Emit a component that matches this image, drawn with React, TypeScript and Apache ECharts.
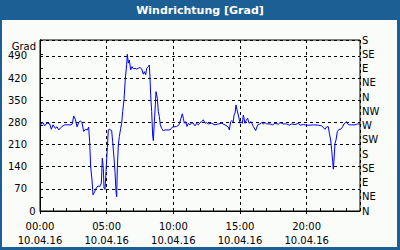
import React, { useEffect, useRef } from "react";
import * as echarts from "echarts";

const TITLE = "Windrichtung [Grad]";
const Y_UNIT = "Grad";
const DATE_LABEL = "10.04.16";
const COMPASS = ["N", "NE", "E", "SE", "S", "SW", "W", "NW", "N", "NE", "E", "SE", "S"];

const HOURS = [
  0, 0.225, 0.35, 0.525, 0.73, 0.85, 0.975, 1.15, 1.275, 1.4, 1.55, 1.725, 1.85, 2.325, 2.425, 2.525, 2.65, 2.775, 2.9,
  3.025, 3.15, 3.275, 3.4, 3.55, 3.65, 3.725, 3.8, 3.9, 3.975, 4.1, 4.225, 4.35, 4.475, 4.6, 4.675, 4.75, 4.8, 4.875,
  4.95, 5.05, 5.125, 5.2, 5.375, 5.45, 5.55, 5.625, 5.7, 5.75, 5.8, 5.875, 5.95, 6.05, 6.125, 6.2, 6.3, 6.4, 6.5, 6.55,
  6.625, 6.7, 6.8, 6.9, 7.0, 7.125, 7.25, 7.375, 7.5, 7.625, 7.75, 7.825, 7.925, 8.0, 8.125, 8.2, 8.25, 8.3, 8.375,
  8.45, 8.5, 8.575, 8.65, 8.7, 8.8, 8.875, 8.95, 9.025, 9.125, 9.25, 9.375, 9.75, 9.925, 10.25, 10.425, 10.575, 10.675,
  10.75, 10.825, 10.925, 11.025, 11.125, 11.25, 11.375, 11.5, 11.625, 11.75, 11.875, 12.0, 12.125, 12.25, 12.375, 12.5,
  12.625, 12.875, 13.125, 13.375, 13.625, 13.875, 14.125, 14.2, 14.3, 14.375, 14.5, 14.55, 14.625, 14.7, 14.775,
  14.875, 15.0, 15.075, 15.175, 15.25, 15.375, 15.45, 15.575, 15.675, 15.825, 16.0, 16.175, 16.325, 16.5, 16.625,
  16.75, 16.875, 17.0, 17.25, 17.45, 17.625, 17.875, 18.0, 18.25, 18.5, 18.7, 18.875, 19.125, 19.375, 19.5, 19.75,
  20.0, 20.25, 20.5, 20.875, 21.125, 21.375, 21.5, 21.625, 21.7, 21.8, 21.875, 21.95, 22.0, 22.05, 22.125, 22.2, 22.3,
  22.425, 22.55, 22.7, 22.8, 22.9, 23.0, 23.075, 23.2, 23.375, 23.625, 23.8, 24.0,
];

const VALUES = [
  272, 279, 269, 278, 275, 258, 272, 261, 266, 256, 263, 269, 272, 272, 275, 300, 290, 266, 279,
  285, 279, 251, 258, 256, 265, 219, 140, 98, 51, 61, 73, 79, 77, 88, 167, 135, 73, 68,
  124, 200, 256, 258, 254, 219, 167, 124, 61, 45, 136, 209, 235, 261, 277, 314, 351, 419, 462, 495,
  467, 477, 446, 456, 449, 451, 448, 451, 453, 449, 432, 440, 430, 451, 456, 461, 419, 367, 314,
  240, 222, 282, 335, 377, 356, 314, 298, 272, 261, 253, 256, 256, 265, 267, 272, 293, 307,
  293, 277, 282, 267, 277, 272, 279, 277, 269, 277, 272, 279, 282, 288, 277, 279,
  275, 277, 272, 275, 277, 272, 265, 256, 282, 285, 282, 303, 309, 335, 319,
  303, 277, 282, 277, 303, 277, 285, 293, 277, 282, 267, 254, 272, 275, 279,
  275, 279, 275, 275, 272, 277, 274, 279, 275, 275, 271, 275, 273, 277, 271, 273,
  271, 271, 272, 271, 269, 258, 266, 266, 246, 224, 193, 156, 132, 161, 214, 224, 251,
  258, 258, 266, 275, 279, 282, 275, 272, 272, 272, 275, 275,
];

const FONT = "DejaVu Sans";
const FRAME = "#1c5f95";

export default function App() {
  const ref = useRef<HTMLDivElement>(null);
  useEffect(() => {
    if (!ref.current) return;
    const chart = echarts.init(ref.current, undefined, { renderer: "svg" });
    const data = HOURS.map((h, i) => [h, VALUES[i]]);
    chart.setOption({
      animation: false,
      backgroundColor: FRAME,
      textStyle: { fontFamily: FONT },
      graphic: [
        { type: "rect", z: -10, shape: { x: 2, y: 20, width: 395, height: 227 }, style: { fill: "#fafcfa" } },
        {
          type: "text", x: 200, y: 10,
          style: { text: TITLE, fill: "#fff", font: `bold 11px "${FONT}"`, align: "center", verticalAlign: "middle" },
        },
        {
          type: "text", x: 36, y: 46,
          style: { text: Y_UNIT, fill: "#000", font: `10px "${FONT}"`, align: "right", verticalAlign: "middle" },
        },
        {
          type: "text", x: 35.5, y: 211,
          style: { text: "0", fill: "#000", font: `10px "${FONT}"`, align: "right", verticalAlign: "middle" },
        },
      ],
      grid: { left: 40, right: 40, top: 40, bottom: 39, show: true, borderColor: "#000", borderWidth: 1, backgroundColor: "transparent" },
      xAxis: [
        {
          type: "value", min: 0, max: 24, interval: 5, position: "bottom",
          axisLine: { lineStyle: { color: "#000", width: 1 } },
          axisTick: { show: true, inside: false, length: 3, lineStyle: { color: "#000" } },
          axisLabel: {
            color: "#000", fontSize: 10, fontFamily: FONT, margin: 8, lineHeight: 14, showMaxLabel: false,
            formatter: (v: number) => (v % 5 === 0 && v < 24 ? `${String(v).padStart(2, "0")}:00\n${DATE_LABEL}` : ""),
          },
          splitLine: { show: true, lineStyle: { color: "#000", type: [3, 3], width: 1 } },
        },
        {
          type: "value", min: 0, max: 24, interval: 1, position: "bottom",
          axisLine: { show: false },
          axisTick: { show: true, inside: true, length: 3, lineStyle: { color: "#000" } },
          axisLabel: { show: false },
          splitLine: { show: false },
        },
      ],
      yAxis: [
        {
          type: "value", min: 0, max: 540, interval: 70, position: "left",
          axisLine: { show: true, lineStyle: { color: "#000" } },
          axisTick: { show: false },
          axisLabel: {
            color: "#000", fontSize: 10, fontFamily: FONT, margin: 13,
            formatter: (v: number) => (v === 0 || v > 490 ? "" : String(v)),
          },
          splitLine: { show: true, lineStyle: { color: "#000", type: [3, 3], width: 1 } },
        },
        {
          type: "value", min: 0, max: 540, interval: 45, position: "right",
          axisLine: { show: true, lineStyle: { color: "#000" } },
          axisTick: { show: true, inside: false, length: 3, lineStyle: { color: "#000" } },
          axisLabel: {
            color: "#000", fontSize: 10, fontFamily: FONT, margin: 2,
            formatter: (v: number) => COMPASS[Math.round(v / 45)] ?? "",
          },
          splitLine: { show: false },
        },
      ],
      series: [
        {
          type: "line", xAxisIndex: 0, yAxisIndex: 0, data, showSymbol: false, symbol: "none",
          lineStyle: { color: "#0000ff", width: 1 }, z: 5,
        },
      ],
    });
    return () => chart.dispose();
  }, []);
  return <div ref={ref} style={{ width: 400, height: 250, position: "absolute", left: 0, top: 0 }} />;
}
